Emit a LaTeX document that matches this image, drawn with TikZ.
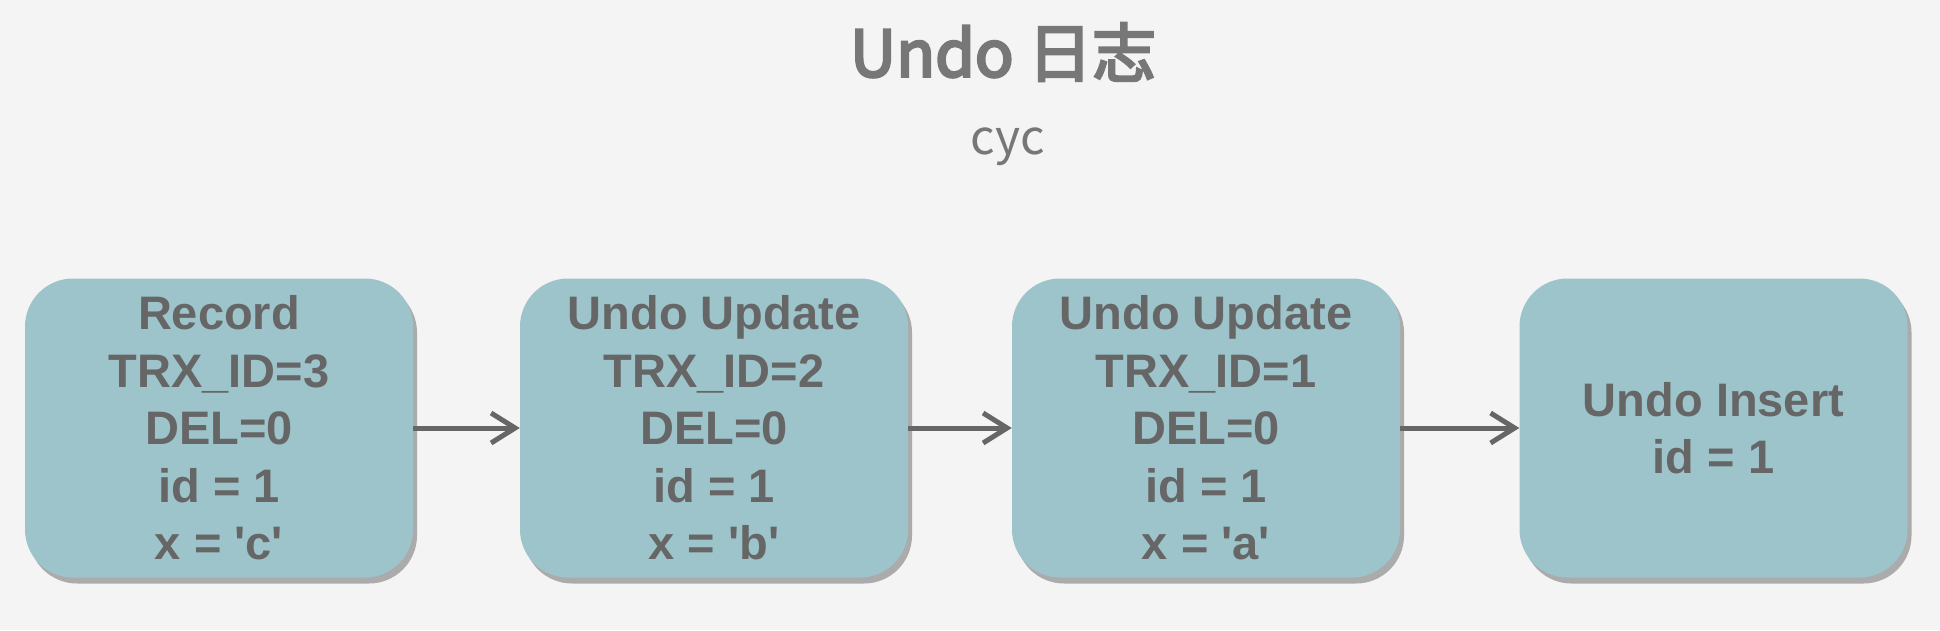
\documentclass[tikz,border=0pt]{standalone}
\usepackage{fontspec}
\setmainfont{Liberation Sans}
\newfontfamily\cjk{Noto Sans CJK SC}
\newfontfamily\cjkmed[FakeBold=4]{Noto Sans CJK SC}
\usetikzlibrary{arrows.meta,shadows}
\definecolor{bgc}{HTML}{F4F4F4}
\definecolor{boxc}{HTML}{9DC4CB}
\definecolor{txtc}{HTML}{666666}
\definecolor{titc}{HTML}{777777}
\definecolor{shc}{HTML}{ABABAB}
\newcommand{\sq}{\textquotesingle}
\tikzset{
  recbox/.style={rounded corners=48pt, fill=boxc, draw=none,
    minimum width=388pt, minimum height=299pt, inner sep=0pt,
    align=center, text=txtc, font=\bfseries\fontsize{47}{57.5}\selectfont,
    drop shadow={fill=shc, opacity=1, shadow xshift=4pt, shadow yshift=-6pt}},
  link/.style={draw=txtc, line width=5pt, -{Straight Barb[length=24pt,width=30pt]}}
}
\begin{document}
\begin{tikzpicture}[x=1pt,y=-1pt]
\fill[bgc] (0,0) rectangle (1940,630);
\useasboundingbox (0,0) rectangle (1940,630);
\node[text=titc, font=\cjkmed\fontsize{64}{70}\selectfont] (title) at (1003,52) {Undo 日志};
\node[text=titc, font=\cjk\fontsize{48}{54}\selectfont] (sub) at (1008,147) {cyc};
\node[recbox] (b1) at (219,428) {Record\\TRX\_ID=3\\DEL=0\\id = 1\\x = \sq c\sq};
\node[recbox] (b2) at (714,428) {Undo Update\\TRX\_ID=2\\DEL=0\\id = 1\\x = \sq b\sq};
\node[recbox] (b3) at (1206,428) {Undo Update\\TRX\_ID=1\\DEL=0\\id = 1\\x = \sq a\sq};
\node[recbox] (b4) at (1713.5,428) {Undo Insert\\id = 1};
\draw[link] (b1.east) -- (b2.west);
\draw[link] (b2.east) -- (b3.west);
\draw[link] (b3.east) -- (b4.west);
\end{tikzpicture}
\end{document}
